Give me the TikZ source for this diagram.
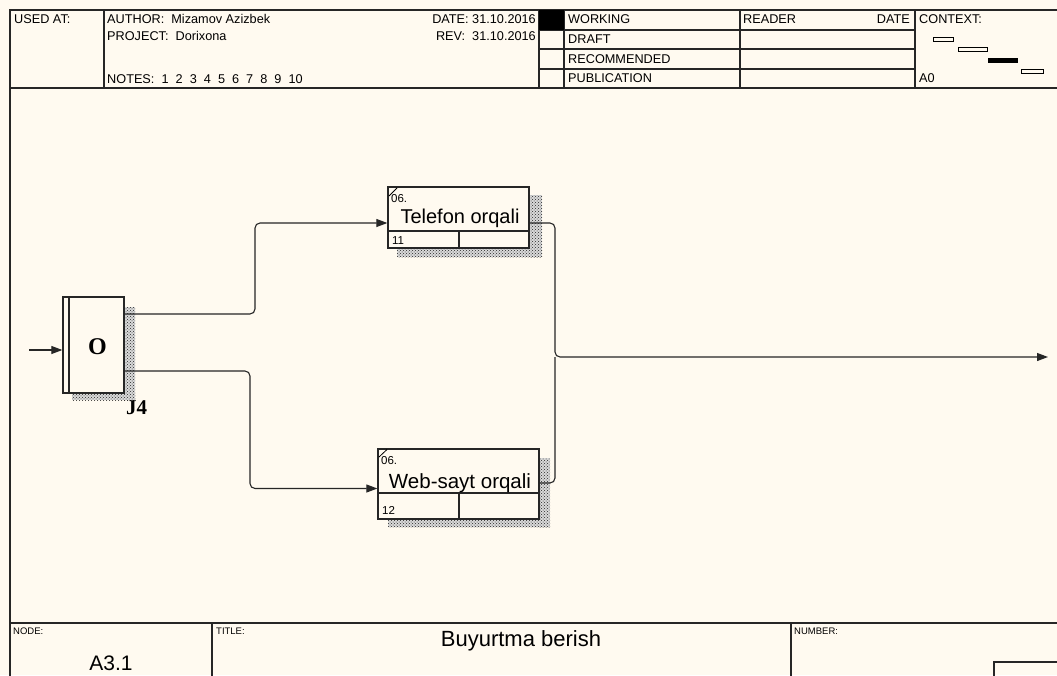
\documentclass[tikz,border=0pt]{standalone}
\usepackage{fontspec}
\setmainfont{Liberation Sans}
\newfontfamily\serifbf{Liberation Serif}
\usetikzlibrary{arrows.meta,patterns}
\definecolor{cream}{RGB}{255,250,240}
\begin{document}
\begin{tikzpicture}[x=1pt,y=-1pt,
  frame/.style={line width=1.2pt,draw=black!85},
  hdr/.style={font=\fontsize{12.7}{13}\selectfont,inner sep=0pt,anchor=base west},
  foot/.style={font=\fontsize{9.5}{10}\selectfont,inner sep=0pt,anchor=base west},
  tiny/.style={font=\fontsize{11.5}{12}\selectfont,inner sep=0pt,anchor=base west},
  boxlabel/.style={font=\fontsize{20}{20}\selectfont,inner sep=0pt,anchor=base},
  abox/.style={draw=black!85,line width=1.3pt,fill=cream,inner sep=0pt},
  shadow/.style={fill=black!15,postaction={pattern=crosshatch dots,pattern color=black!85}},
  arr/.style={line width=1.1pt,draw=black!85,rounded corners=5pt,-{Triangle[length=11pt,width=8pt]}},
  conn/.style={line width=1.1pt,draw=black!85,rounded corners=5pt}]
\useasboundingbox (0,0) rectangle (1057,675);
\clip (0,0) rectangle (1057,675);
\fill[cream] (0,0) rectangle (1057,675);

% ---- header frame
\draw[frame] (10,10) rectangle (1065,88);
\foreach \xx in {104,539,564,740,915} \draw[frame] (\xx,10) -- (\xx,88);
\foreach \yy in {30,49,69} \draw[frame] (539,\yy) -- (915,\yy);
\fill[black] (539,10) rectangle (564,30);
\draw[frame] (10,88) -- (10,680);

% context glyphs
\draw[line width=1pt] (933,37) rectangle (953,41);
\draw[line width=1pt] (958,47.3) rectangle (987,51);
\fill[black] (988,58.3) rectangle (1018,62.7);
\draw[line width=1pt] (1021,69.3) rectangle (1043,73.3);

% header texts
\node[hdr] (usedat) at (14,23.5) {USED AT:};
\node[hdr] (author) at (107,23.5) {AUTHOR:\ \ Mizamov Azizbek};
\node[hdr] (project) at (107,40) {PROJECT:\ \ Dorixona};
\node[hdr] (notes) at (107,83) {NOTES:\ \ 1\ \ 2\ \ 3\ \ 4\ \ 5\ \ 6\ \ 7\ \ 8\ \ 9\ \ 10};
\node[hdr,anchor=base east] (date) at (536,23.5) {DATE: 31.10.2016};
\node[hdr,anchor=base east] (rev) at (536,40) {REV:\ \ 31.10.2016};
\node[hdr] (working) at (568,23.5) {WORKING};
\node[hdr] (draft) at (568,43) {DRAFT};
\node[hdr] (recom) at (568,63) {RECOMMENDED};
\node[hdr] (publ) at (568,82.5) {PUBLICATION};
\node[hdr] (reader) at (743,23.5) {READER};
\node[hdr,anchor=base east] (rdate) at (910,23.5) {DATE};
\node[hdr] (context) at (919,23.5) {CONTEXT:};
\node[hdr] (azero) at (919,82.5) {A0};

% ---- footer
\draw[frame] (10,623) -- (1065,623);
\draw[frame] (212,623) -- (212,680);
\draw[frame] (791,623) -- (791,680);
\draw[frame] (994,662) rectangle (1070,690);
\node[foot] (nodelbl) at (13,634) {NODE:};
\node[foot] (titlelbl) at (216,634) {TITLE:};
\node[foot] (numlbl) at (794,634) {NUMBER:};
\node[font=\fontsize{21}{21}\selectfont,inner sep=0pt,anchor=base] (nodeval) at (111,670) {A3.1};
\node[font=\fontsize{22}{22}\selectfont,inner sep=0pt,anchor=base] (title) at (521,646) {Buyurtma berish};

% ---- shadows
\fill[shadow] (124,307) rectangle (135,400);
\fill[shadow] (72,393) rectangle (135,400);
\fill[shadow] (529,195) rectangle (542,257);
\fill[shadow] (397,248) rectangle (542,257);
\fill[shadow] (539,458) rectangle (550,527);
\fill[shadow] (388,519) rectangle (550,527);

% ---- junction box
\node[abox,minimum width=61pt,minimum height=96pt] (J) at (93.5,345) {};
\draw[line width=1.2pt,draw=black!85] (69,297) -- (69,393);
\node[font=\serifbf\bfseries\fontsize{24}{24}\selectfont,inner sep=0pt,anchor=base] (olbl) at (97.5,354.5) {O};
\node[font=\serifbf\bfseries\fontsize{21}{21}\selectfont,inner sep=0pt,anchor=base west] (jlbl) at (126,414) {J4};

% ---- activity boxes
\node[abox,minimum width=141pt,minimum height=61pt] (tel) at (458.5,217.5) {};
\draw[line width=1.2pt,draw=black!85] (388,231) -- (529,231) (459,231) -- (459,248);
\draw[line width=0.8pt] (389,196) -- (397,188);
\node[tiny] (tel06) at (391,202) {06.};
\node[tiny] (tel11) at (392,244) {11};
\node[boxlabel] (teltxt) at (460,223) {Telefon orqali};

\node[abox,minimum width=161pt,minimum height=70pt] (web) at (458.5,484) {};
\draw[line width=1.2pt,draw=black!85] (378,493) -- (539,493) (459,493) -- (459,519);
\draw[line width=0.8pt] (379,457) -- (387,449.5);
\node[tiny] (web06) at (381,464.5) {06.};
\node[tiny] (web12) at (382,514.5) {12};
\node[boxlabel,font=\fontsize{20.5}{21}\selectfont] (webtxt) at (460,488) {Web-sayt orqali};

% ---- connectors
\coordinate (in) at (29,350);
\coordinate (jt1) at (255,314);
\coordinate (jt2) at (255,223);
\coordinate (jw1) at (250,371);
\coordinate (jw2) at (250,488.5);
\coordinate (to1) at (555,223);
\coordinate (mid) at (555,357);
\coordinate (wo1) at (555,483);
\coordinate (out) at (1048,357);

\draw[arr] (in) -- (in -| J.west);
\draw[arr] (J.east |- jt1) -- (jt1) -- (jt2) -- (tel.west |- jt2);
\draw[arr] (J.east |- jw1) -- (jw1) -- (jw2) -- (web.west |- jw2);
\draw[arr] (tel.east |- to1) -- (to1) -- (mid) -- (out);
\draw[conn] (web.east |- wo1) -- (wo1) -- (mid);
\end{tikzpicture}
\end{document}
